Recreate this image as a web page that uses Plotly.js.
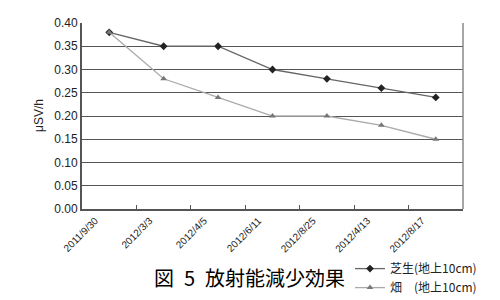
<!DOCTYPE html>
<html><head><meta charset="utf-8">
<script src="https://cdn.plot.ly/plotly-3.0.1.min.js"></script>
<style>html,body{margin:0;padding:0;background:#fff;}</style>
</head><body>
<div id="chart" style="width:500px;height:300px;"></div>
<script>
const categories = ["2011/9/30","2012/3/3","2012/4/5","2012/6/11","2012/8/25","2012/4/13","2012/8/17"];
const lawn = [0.38, 0.35, 0.35, 0.30, 0.28, 0.26, 0.24];
const field = [0.38, 0.28, 0.24, 0.20, 0.20, 0.18, 0.15];
const yTicks = [0, 0.05, 0.10, 0.15, 0.20, 0.25, 0.30, 0.35, 0.40];
const yTickText = yTicks.map(v => v.toFixed(2));
const seriesNames = ["芝生(地上10cm)", "畑　(地上10cm)"];

const traces = [
  {x: categories, y: lawn, name: seriesNames[0], type: "scatter", mode: "lines+markers",
   line: {color: "#666", width: 1.3}, marker: {symbol: "diamond", size: 6, color: "#222"}},
  {x: categories, y: field, name: seriesNames[1], type: "scatter", mode: "lines+markers",
   line: {color: "#aaa", width: 1.3}, marker: {symbol: "triangle-up", size: 6, color: "#777"}}
];

const layout = {
  width: 500, height: 300,
  margin: {l: 82, r: 37, t: 23, b: 91, autoexpand: false},
  paper_bgcolor: "#fff", plot_bgcolor: "#fff",
  showlegend: true,
  font: {family: "Liberation Sans, Arial, sans-serif", color: "#000"},
  xaxis: {
    type: "category", tickson: "boundaries", ticks: "inside", ticklen: 4, tickcolor: "#555",
    showgrid: false, showline: true, linecolor: "#555", linewidth: 2,
    tickangle: -45, tickfont: {size: 10, color: "#222"}, ticklabelshift: -14, ticklabelstandoff: 0,
    range: [-0.5, 6.5], zeroline: false, automargin: false
  },
  yaxis: {
    range: [0, 0.4], tickvals: yTicks, ticktext: yTickText,
    tickfont: {size: 12, color: "#222"}, ticks: "",
    showgrid: true, gridcolor: "#555", gridwidth: 1,
    showline: true, linecolor: "#555", linewidth: 2, zeroline: false, automargin: false
  },
  shapes: [
    {type: "line", xref: "paper", yref: "paper", x0: 1, x1: 1, y0: 0, y1: 1,
     line: {color: "#888", width: 1.5}}
  ],
  legend: {
    xref: "container", yref: "container",
    x: 0.70, y: 0.153, xanchor: "left", yanchor: "top",
    font: {family: "Noto Sans CJK JP, sans-serif", size: 12, color: "#222"},
    bgcolor: "rgba(0,0,0,0)", tracegroupgap: 0, itemwidth: 30
  },
  annotations: [
    {text: "図\u20025\u2002放射能減少効果", xref: "paper", yref: "paper",
     x: (249 - 82) / 381, y: -(277 - 209) / 186,
     xanchor: "center", yanchor: "middle", showarrow: false,
     font: {family: "Noto Sans CJK JP, sans-serif", size: 20, color: "#000"}},
    {text: "μSV/h", xref: "paper", yref: "paper",
     x: -(82 - 39) / 381, y: 0.5, textangle: -90,
     xanchor: "center", yanchor: "middle", showarrow: false,
     font: {size: 12, color: "#222"}}
  ]
};

Plotly.newPlot("chart", traces, layout, {displayModeBar: false, staticPlot: true});
</script>
</body></html>
